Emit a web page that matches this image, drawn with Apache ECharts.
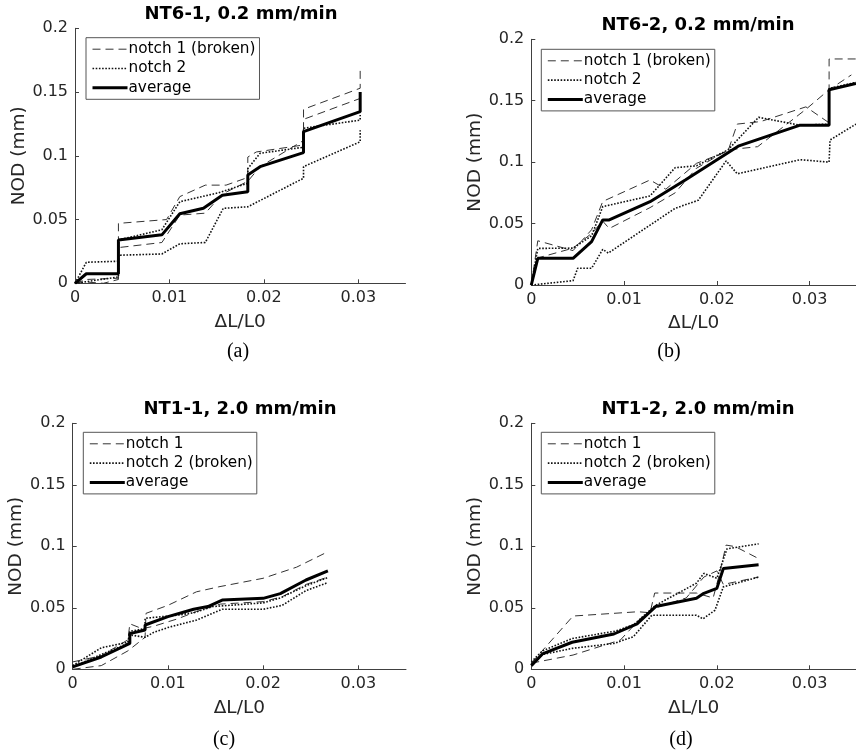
<!DOCTYPE html>
<html><head><meta charset="utf-8">
<script src="https://cdn.jsdelivr.net/npm/echarts@6/dist/echarts.min.js"></script>
<style>html,body{margin:0;padding:0;background:#fff}#c{width:856px;height:756px}</style>
</head><body><div id="c"></div>
<script>
// ---------- text ----------
const panelTitles = ['NT6-1, 0.2 mm/min', 'NT6-2, 0.2 mm/min', 'NT1-1, 2.0 mm/min', 'NT1-2, 2.0 mm/min'];
const captions = ['(a)', '(b)', '(c)', '(d)'];
const legendNamesA = ['notch 1 (broken)', 'notch 2', 'average'];
const legendNamesB = ['notch 1 (broken)', 'notch 2', 'average'];
const legendNamesC = ['notch 1', 'notch 2 (broken)', 'average'];
const legendNamesD = ['notch 1', 'notch 2 (broken)', 'average'];
const xAxisName = '\u0394L/L0';
const yAxisName = 'NOD (mm)';
const xTickValues = [0, 0.01, 0.02, 0.03];
const xTickLabels = ['0', '0.01', '0.02', '0.03'];
const yTickValues = [0, 0.05, 0.1, 0.15, 0.2];
const yTickLabels = ['0', '0.05', '0.1', '0.15', '0.2'];

// ---------- panel (a) NT6-1 ----------
const a_notch1_1 = [[0,0],[0.0012,0.003],[0.0046,0.004],[0.0046,0.047],[0.0097,0.050],[0.0111,0.068],[0.0138,0.077],[0.016,0.077],[0.0183,0.083],[0.0183,0.099],[0.0192,0.103],[0.0242,0.1085],[0.0242,0.1365],[0.0302,0.153],[0.0302,0.170]];
const a_notch1_2 = [[0,0],[0.0012,0.001],[0.003,0.0],[0.0046,0.003],[0.0046,0.028],[0.0092,0.032],[0.0111,0.0535],[0.0138,0.055],[0.0156,0.070],[0.0183,0.080],[0.0196,0.0915],[0.0242,0.112],[0.0242,0.1286],[0.0302,0.145]];
const a_notch2_1 = [[0,0],[0.0012,0.0165],[0.0046,0.0173],[0.0046,0.034],[0.0092,0.042],[0.0111,0.064],[0.0152,0.071],[0.0183,0.0784],[0.0183,0.090],[0.0196,0.102],[0.0242,0.1067],[0.0242,0.1216],[0.0302,0.128],[0.0302,0.132]];
const a_notch2_2 = [[0,0],[0.0046,0.005],[0.0046,0.022],[0.0092,0.023],[0.0111,0.031],[0.0138,0.032],[0.0157,0.0588],[0.0183,0.060],[0.0242,0.0824],[0.0242,0.0915],[0.0302,0.111],[0.0302,0.120]];
const a_average = [[0,0],[0.0012,0.0075],[0.0046,0.0075],[0.0046,0.034],[0.0092,0.038],[0.0111,0.0545],[0.0136,0.0588],[0.0156,0.069],[0.0183,0.0718],[0.0183,0.085],[0.0196,0.0915],[0.0242,0.1025],[0.0242,0.119],[0.0302,0.1346],[0.0302,0.150]];

// ---------- panel (b) NT6-2 ----------
const b_notch1_1 = [[0,0],[0.0007,0.036],[0.0045,0.028],[0.0065,0.045],[0.0077,0.068],[0.0128,0.0855],[0.0145,0.078],[0.0178,0.099],[0.0212,0.109],[0.0222,0.131],[0.0247,0.133],[0.0296,0.145],[0.0321,0.132],[0.0321,0.184],[0.035,0.184]];
const b_notch1_2 = [[0,0],[0.0007,0.022],[0.0045,0.030],[0.0065,0.042],[0.0077,0.052],[0.0084,0.046],[0.0128,0.063],[0.0155,0.075],[0.0178,0.095],[0.0212,0.110],[0.0244,0.1126],[0.0296,0.143],[0.0321,0.159],[0.0345,0.171]];
const b_notch2_1 = [[0,0],[0.0007,0.0298],[0.0045,0.030],[0.0065,0.040],[0.0077,0.0638],[0.0128,0.0725],[0.0155,0.0955],[0.0178,0.097],[0.0212,0.110],[0.0245,0.1365],[0.029,0.130],[0.0321,0.131],[0.0321,0.160],[0.035,0.165]];
const b_notch2_2 = [[0,0],[0.0045,0.0035],[0.005,0.0136],[0.0065,0.0136],[0.0077,0.029],[0.0083,0.026],[0.0155,0.0624],[0.018,0.069],[0.021,0.101],[0.0222,0.0905],[0.029,0.102],[0.0321,0.100],[0.0322,0.118],[0.035,0.131]];
const b_average = [[0,0],[0.0007,0.0217],[0.0045,0.0217],[0.0065,0.0353],[0.0077,0.053],[0.0084,0.053],[0.0128,0.0678],[0.0166,0.0855],[0.0223,0.113],[0.0289,0.130],[0.0321,0.130],[0.0321,0.159],[0.035,0.164]];

// ---------- panel (c) NT1-1 ----------
const c_notch1_1 = [[0,0],[0.003,0.003],[0.0058,0.015],[0.0076,0.026],[0.0077,0.0455],[0.010,0.052],[0.013,0.063],[0.0153,0.067],[0.020,0.074],[0.0235,0.083],[0.0268,0.0956]];
const c_notch1_2 = [[0,0.006],[0.003,0.011],[0.0058,0.024],[0.006,0.037],[0.0073,0.033],[0.0085,0.035],[0.011,0.041],[0.013,0.047],[0.0155,0.053],[0.020,0.055],[0.022,0.059],[0.0245,0.069],[0.0268,0.075]];
const c_notch2_1 = [[0,0.003],[0.003,0.0175],[0.0058,0.022],[0.006,0.031],[0.0076,0.033],[0.0076,0.0415],[0.011,0.044],[0.0127,0.046],[0.0147,0.051],[0.020,0.054],[0.0218,0.058],[0.0245,0.068],[0.0268,0.0746]];
const c_notch2_2 = [[0,0.002],[0.003,0.012],[0.0058,0.021],[0.006,0.028],[0.0076,0.026],[0.0085,0.030],[0.010,0.034],[0.013,0.040],[0.0157,0.0488],[0.020,0.0488],[0.022,0.052],[0.0245,0.064],[0.0268,0.0705]];
const c_average = [[0,0.002],[0.003,0.010],[0.006,0.021],[0.006,0.029],[0.0076,0.032],[0.0076,0.036],[0.010,0.0428],[0.0127,0.0488],[0.0142,0.051],[0.0157,0.0563],[0.020,0.0577],[0.0218,0.0615],[0.0245,0.0726],[0.0268,0.080]];

// ---------- panel (d) NT1-2 ----------
const d_notch1_1 = [[0,0.005],[0.0045,0.0433],[0.0115,0.0468],[0.0128,0.046],[0.0133,0.062],[0.0178,0.062],[0.0196,0.058],[0.0202,0.075],[0.021,0.101],[0.022,0.0997],[0.0245,0.090]];
const d_notch1_2 = [[0,0.005],[0.0045,0.0116],[0.0096,0.0238],[0.0121,0.044],[0.0134,0.050],[0.0167,0.058],[0.0186,0.075],[0.020,0.080],[0.0207,0.069],[0.0245,0.075]];
const d_notch2_1 = [[0,0.006],[0.0012,0.015],[0.0044,0.025],[0.009,0.031],[0.011,0.036],[0.0134,0.052],[0.0178,0.070],[0.0186,0.078],[0.020,0.074],[0.0211,0.098],[0.0245,0.102]];
const d_notch2_2 = [[0,0.004],[0.0012,0.012],[0.0044,0.017],[0.0089,0.021],[0.011,0.0265],[0.013,0.044],[0.0178,0.044],[0.0185,0.041],[0.0198,0.048],[0.0207,0.067],[0.0245,0.075]];
const d_average = [[0,0.003],[0.0012,0.0125],[0.0044,0.022],[0.0089,0.0287],[0.0114,0.037],[0.0134,0.051],[0.0178,0.0577],[0.0186,0.0618],[0.020,0.0658],[0.0207,0.082],[0.0245,0.085]];

// ---------- layout ----------
const panels = [
  {grid:{left:75, top:28.3, width:330.5, height:255}, legendPos:[86,37.7], names:legendNamesA,
   n1:[a_notch1_1,a_notch1_2], n2:[a_notch2_1,a_notch2_2], avg:a_average, titleXY:[241,5], capXY:[238,342], yGap:46},
  {grid:{left:531.3, top:39.3, width:332.5, height:245.7}, legendPos:[541.3,49.3], names:legendNamesB,
   n1:[b_notch1_1,b_notch1_2], n2:[b_notch2_1,b_notch2_2], avg:b_average, titleXY:[698,16], capXY:[669,342], yGap:46},
  {grid:{left:72.7, top:423.3, width:333.3, height:246}, legendPos:[83.3,432.3], names:legendNamesC,
   n1:[c_notch1_1,c_notch1_2], n2:[c_notch2_1,c_notch2_2], avg:c_average, titleXY:[240,400], capXY:[224,730], yGap:44},
  {grid:{left:531.3, top:423.3, width:332.5, height:246}, legendPos:[541.3,432.3], names:legendNamesD,
   n1:[d_notch1_1,d_notch1_2], n2:[d_notch2_1,d_notch2_2], avg:d_average, titleXY:[698,400], capXY:[681,730], yGap:46}
];

const FONT = 'DejaVu Sans';
const TXT = '#262626';
const option = {
  animation:false,
  backgroundColor:'#fff',
  grid:[], xAxis:[], yAxis:[], series:[], legend:[], title:[]
};

function fmt(values, labels){
  return function(v){
    for (let i=0;i<values.length;i++) if (Math.abs(v-values[i])<1e-9) return labels[i];
    return '';
  };
}

panels.forEach((p,i)=>{
  option.grid.push(Object.assign({containLabel:false}, p.grid));
  option.xAxis.push({
    type:'value', gridIndex:i, min:0, max:0.035, interval:0.01,
    name:xAxisName, nameLocation:'middle', nameGap:29,
    nameTextStyle:{fontFamily:FONT, fontSize:18.5, color:TXT},
    axisLine:{show:true, onZero:false, lineStyle:{color:'#404040', width:1}},
    axisTick:{show:true, inside:true, length:4, customValues:xTickValues, lineStyle:{color:'#404040'}},
    axisLabel:{show:true, margin:7, customValues:xTickValues, formatter:fmt(xTickValues,xTickLabels), fontFamily:FONT, fontSize:16, color:TXT},
    splitLine:{show:false}
  });
  option.yAxis.push({
    type:'value', gridIndex:i, min:0, max:0.2, interval:0.05,
    name:yAxisName, nameLocation:'middle', nameGap:p.yGap, nameRotate:90,
    nameTextStyle:{fontFamily:FONT, fontSize:18.5, color:TXT},
    axisLine:{show:true, onZero:false, lineStyle:{color:'#404040', width:1}},
    axisTick:{show:true, inside:true, length:4, lineStyle:{color:'#404040'}},
    axisLabel:{show:true, margin:7, formatter:fmt(yTickValues,yTickLabels), fontFamily:FONT, fontSize:16, color:TXT},
    splitLine:{show:false}
  });
  const base = {type:'line', xAxisIndex:i, yAxisIndex:i, symbol:'none', silent:true, clip:true};
  p.n1.forEach(d=>option.series.push(Object.assign({}, base, {name:p.names[0], data:d, z:2,
    itemStyle:{color:'#333'}, lineStyle:{color:'#333', width:1, type:[8,5]}})));
  p.n2.forEach(d=>option.series.push(Object.assign({}, base, {name:p.names[1], data:d, z:3,
    itemStyle:{color:'#111'}, lineStyle:{color:'#111', width:1.6, type:[1.6,1.6]}})));
  option.series.push(Object.assign({}, base, {name:p.names[2], data:p.avg, z:4,
    itemStyle:{color:'#000'}, lineStyle:{color:'#000', width:3, type:'solid'}}));
  option.legend.push({
    orient:'vertical', left:p.legendPos[0], top:p.legendPos[1], data:p.names,
    itemWidth:35, itemHeight:14, itemGap:4.3, padding:[4,4,4,5],
    borderColor:'#555', borderWidth:1, backgroundColor:'#fff', selectedMode:false,
    itemStyle:{opacity:0},
    lineStyle:{width:'inherit'},
    textStyle:{fontFamily:FONT, fontSize:15.3, color:'#000', padding:[0,0,0,-4]}
  });
  option.title.push({
    text:panelTitles[i], left:p.titleXY[0], top:p.titleXY[1], textAlign:'center', padding:0,
    textStyle:{fontFamily:FONT, fontSize:18, fontWeight:'bold', color:'#000'}
  });
  option.title.push({
    text:captions[i], left:p.capXY[0], top:p.capXY[1], textAlign:'center', padding:0,
    textStyle:{fontFamily:'Liberation Serif', fontSize:20, fontWeight:'normal', color:'#000'}
  });
});

const chart = echarts.init(document.getElementById('c'), null, {renderer:'canvas', width:856, height:756});
chart.setOption(option);
</script>
</body></html>
